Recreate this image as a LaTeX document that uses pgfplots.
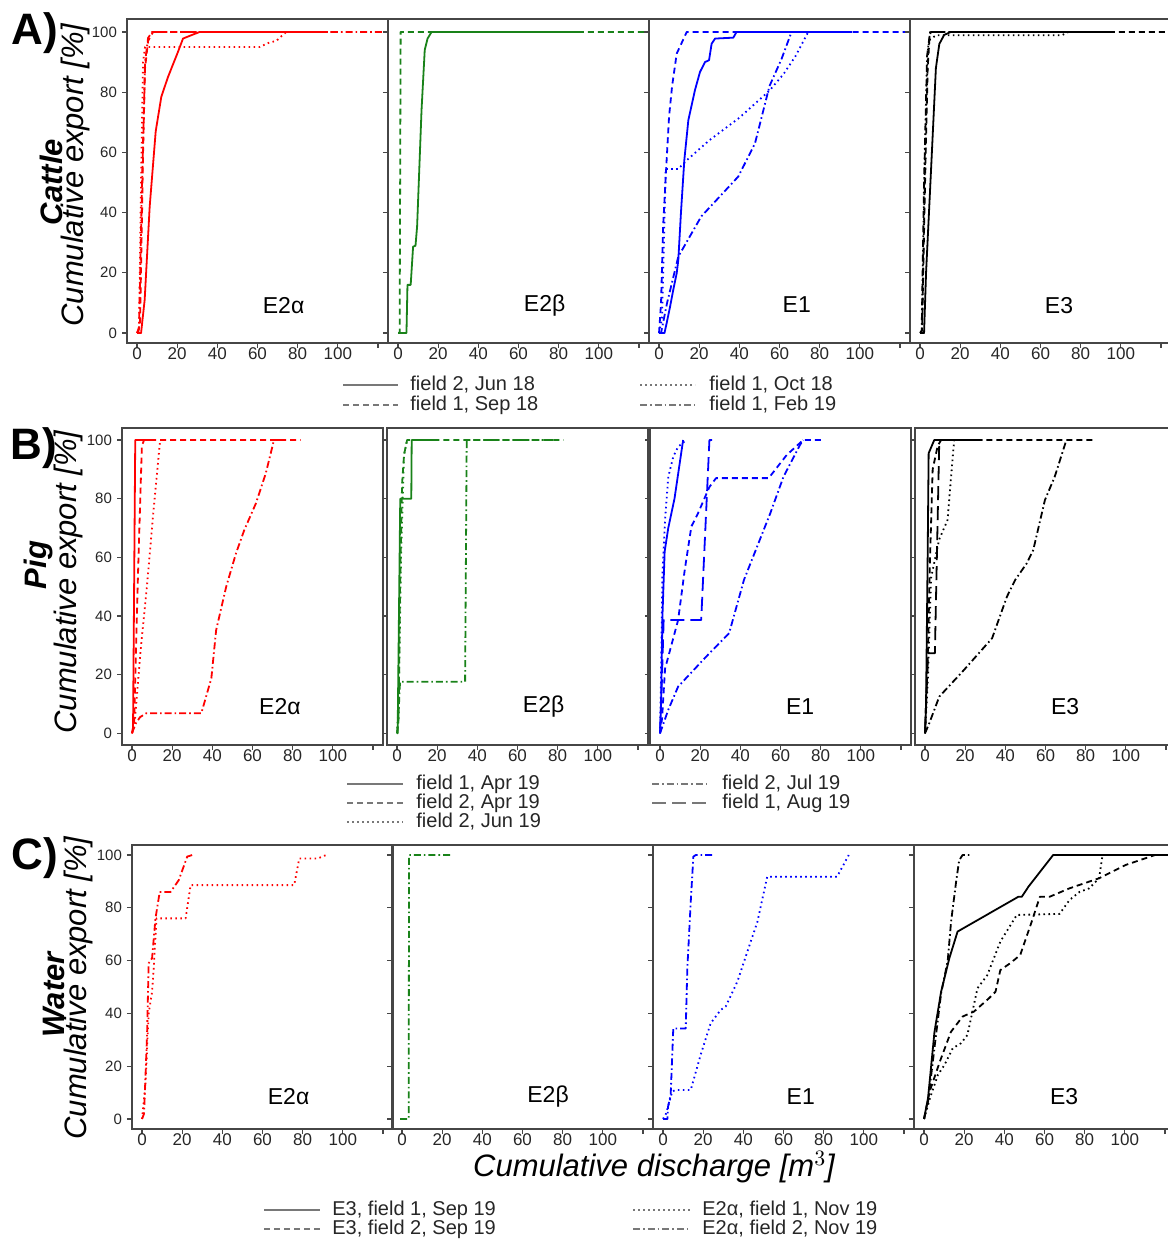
\documentclass[border=0pt]{standalone}
\usepackage{fontspec}
\setmainfont{Liberation Sans}
\usepackage{pgfplots}
\pgfplotsset{compat=1.18}
\definecolor{mygreen}{RGB}{25,130,25}
\definecolor{frame}{RGB}{70,70,70}
\definecolor{leggray}{RGB}{120,120,120}
\tikzset{
 sdash/.style={dash pattern=on 3pt off 2pt},
 sdot/.style={dash pattern=on 0.8pt off 1.7pt},
 sdashdot/.style={dash pattern=on 3.5pt off 1.5pt on 0.8pt off 1.5pt},
 slong/.style={dash pattern=on 7pt off 3pt},
}
\pgfplotsset{
 panel/.style={scale only axis, width=130.5pt, xmin=-5, xmax=125, anchor=north west,
   xtick={0,20,...,120}, xticklabels={0,20,40,60,80,100,{}},
   ytick={0,20,...,100}, yticklabels={},
   tick align=outside, xtick pos=bottom, ytick pos=left, major tick length=2.5pt,
   axis line style={draw=frame, line width=0.8pt},
   tick style={draw=frame, line width=0.6pt},
   xticklabel style={font=\fontsize{8.5}{10}\selectfont, text=black!85, yshift=3.5pt},
   yticklabel style={font=\fontsize{7.5}{9}\selectfont, text=black!85, xshift=1pt},
   every axis plot/.append style={line width=0.9pt, line join=round},
 },
 first/.style={yticklabels={0,20,40,60,80,100}},
 rowA/.style={height=162pt, ymin=-3.3, ymax=104.3},
 rowB/.style={height=158.5pt, ymin=-4.0, ymax=104.1},
 rowC/.style={height=142pt, ymin=-3.8, ymax=103.8},
}
\newcommand{\plab}[3]{\node[font=\fontsize{11.5}{13}\selectfont] at (rel axis cs:#1,#2) {#3};}
\begin{document}
\begin{tikzpicture}
\useasboundingbox (0,0) rectangle (584pt,619.5pt);
\clip (0,0) rectangle (584pt,619.5pt);
% ================= ROW A =================
\begin{axis}[panel,rowA,first,at={(63.5pt,610pt)}]
\addplot[red] coordinates {(0,0)(2,0)(3.8,11)(6.3,42)(9.3,67)(12.1,78.5)(15.4,85)(20.4,93.4)(22.9,97.8)(27,98.9)(31.2,100)(95,100)};
\addplot[red,sdash] coordinates {(0.5,0)(1.5,3)(2.5,40)(3,60)(4,88)(5.5,97)(8,100)(100,100)};
\addplot[red,sdot] coordinates {(0,0)(1,2)(2,50)(3,90)(4,95)(61,95)(66,96.5)(69.3,97)(74.3,100)};
\addplot[red,sdashdot] coordinates {(0,0)(1,2)(2.5,50)(4,90)(5.5,98)(7.5,100)(125,100)};
\plab{0.60}{0.117}{E2α}
\end{axis}
\begin{axis}[panel,rowA,at={(194pt,610pt)}]
\addplot[mygreen] coordinates {(0,0)(4.2,0)(4.7,16)(6.3,16)(7.5,28.7)(8.7,29)(9.5,35.4)(11.7,74)(13.3,94)(14.7,97.8)(16.7,100)(91.7,100)};
\addplot[mygreen,sdash] coordinates {(0,0)(0.8,0)(1.3,100)(125,100)};
\plab{0.60}{0.117}{E2β}
\end{axis}
\begin{axis}[panel,rowA,at={(324.5pt,610pt)}]
\addplot[blue] coordinates {(0,0)(2.7,0)(3.8,3.3)(5.5,8.8)(7.1,14.4)(8.8,19.9)(9.6,24.3)(10.9,39.8)(12.6,57.5)(14.6,70.7)(17.9,80.7)(20.4,86.7)(22.9,90)(24.9,90.6)(26.2,96.1)(27.9,97.8)(37,98.1)(38.6,100)(96,100)};
\addplot[blue,sdash] coordinates {(0,0)(1,10)(2,35)(3.5,54)(5,72)(6.5,82)(8.8,92.8)(13.8,100)(125,100)};
\addplot[blue,sdot] coordinates {(0,0)(1.5,5)(2.8,40)(3.3,54.5)(9.6,54.5)(14,57.5)(25,64)(40,71.5)(55,80.5)(62,86)(68,92)(74.3,100)(95,100)};
\addplot[blue,sdashdot] coordinates {(0,0)(1,0)(4,10)(9.6,25.4)(21,38.7)(39.5,52)(47.8,63)(55,82)(61,91)(66,100)(95,100)};
\plab{0.566}{0.117}{E1}
\end{axis}
\begin{axis}[panel,rowA,at={(455pt,610pt)}]
\addplot[black] coordinates {(0,0)(2,0)(3,20)(5.9,60)(7.9,88)(9.6,96)(12,99)(15.3,100)(95,100)};
\addplot[black,sdash] coordinates {(0,0)(1,1)(2.5,50)(3.8,88)(4.8,99)(5.5,100)(125,100)};
\addplot[black,sdot] coordinates {(0,0)(1,0)(2.5,60)(4,95)(5,97.5)(8,98.9)(70.6,98.9)(74,100)};
\addplot[black,sdashdot] coordinates {(0,0)(0.8,0)(2,50)(3.5,92)(5,100)(95,100)};
\plab{0.571}{0.117}{E3}
\end{axis}
% ================= ROW B =================
\begin{axis}[panel,rowB,first,at={(61pt,405.5pt)}]
\addplot[red] coordinates {(0,0)(0.5,2)(1.6,100)(11.5,100)};
\addplot[red,sdash] coordinates {(0,0)(1,3)(3,55)(4.9,98)(6,100)(84,100)};
\addplot[red,sdot] coordinates {(0,0)(1.5,5)(4.1,27)(7.4,50)(10.7,76)(14,100)};
\addplot[red,sdashdot] coordinates {(0,0)(0.5,1)(2,3.5)(4,5.5)(7,6.8)(34.5,6.8)(39.5,18.75)(41.9,35.2)(46.9,50)(51.8,61.4)(55.9,69.3)(61.7,78.4)(66.6,88.6)(70.7,100)(76.5,100)};
\plab{0.605}{0.121}{E2α}
\end{axis}
\begin{axis}[panel,rowB,at={(193.5pt,405.5pt)}]
\addplot[mygreen] coordinates {(0,0)(0.3,0)(1.6,80)(7.1,80)(7.3,100)(20,100)};
\addplot[mygreen,sdash] coordinates {(0,0)(0.8,5)(1.5,50)(2.5,85)(3.5,95)(5,100)(83,100)};
\addplot[mygreen,sdot] coordinates {(0,0)(0.8,10)(2,60)(3.5,95)(5,100)(15,100)};
\addplot[mygreen,sdashdot] coordinates {(0,0)(0.5,3)(1.5,17.6)(33.9,17.6)(34.7,100)(80,100)};
\plab{0.60}{0.121}{E2β}
\end{axis}
\begin{axis}[panel,rowB,at={(325pt,405.5pt)}]
\addplot[blue] coordinates {(0,0)(0.5,10)(1.2,40)(2.3,62)(4.1,70)(7.2,80)(11.5,100)};
\addplot[blue,sdot] coordinates {(0,0)(0.5,20)(1.2,55)(2.5,72.7)(4.1,87.5)(6.6,94.3)(9,97.7)(13.1,100)};
\addplot[blue,slong] coordinates {(0,0)(0.8,15)(1.8,38.6)(20.5,38.6)(24.6,100)(26,100)};
\addplot[blue,sdash] coordinates {(0,0)(1,5)(2.5,22)(9,38.6)(12.3,55.7)(15.6,70.5)(18.9,75)(24.6,84)(27.9,87)(54.1,87)(63.1,94.9)(71.3,100)(82,100)};
\addplot[blue,sdashdot] coordinates {(0,0)(4.1,8)(9,15.9)(24.6,27.3)(34.4,34.1)(41.8,52.3)(54.9,75)(61.5,87.5)(69.7,98.3)(71.3,100)};
\plab{0.575}{0.121}{E1}
\end{axis}
\begin{axis}[panel,rowB,at={(457.5pt,405.5pt)}]
\addplot[black] coordinates {(0,0)(0.5,10)(1.3,60)(1.8,95.5)(4.6,100)(28.5,100)};
\addplot[black,slong] coordinates {(0,0)(1.5,27.3)(4.9,27.3)(7.1,100)};
\addplot[black,sdash] coordinates {(0,0)(1.5,30)(2.5,60)(3.8,90)(6.3,98)(8,100)(84.4,100)};
\addplot[black,sdot] coordinates {(0,0)(1.5,20)(3,53)(7,66)(11.2,72.7)(12.8,86)(14.5,100)};
\addplot[black,sdashdot] coordinates {(0,0)(2.1,3.4)(7.1,12.5)(19.4,21.6)(33.4,32.4)(40.8,46.6)(44.9,52.3)(50.7,58)(53.9,62.5)(59.7,79.5)(64.6,87.5)(70.4,100)};
\plab{0.575}{0.121}{E3}
\end{axis}
% ================= ROW C =================
\begin{axis}[panel,rowC,first,at={(66pt,197pt)}]
\addplot[red,sdashdot] coordinates {(0,0)(1,2)(2.5,31.8)(3.3,59)(5,60.9)(6.7,76)(8.8,86)(14.2,86)(18.3,90.5)(22.5,99.4)(25,100)};
\addplot[red,sdot] coordinates {(0,0)(1.7,12.9)(3.3,40)(5,48.2)(5.8,57)(7.2,76)(21.7,76)(24.2,88.6)(75.8,88.6)(78.3,98.7)(87.5,98.7)(91.7,100)};
\plab{0.60}{0.114}{E2α}
\end{axis}
\begin{axis}[panel,rowC,at={(196pt,197pt)}]
\addplot[mygreen,sdashdot] coordinates {(-1,0)(3.3,0)(3.5,100)(24.5,100)};
\plab{0.598}{0.114}{E2β}
\end{axis}
\begin{axis}[panel,rowC,at={(326.5pt,197pt)}]
\addplot[blue,sdashdot] coordinates {(0,0)(2.2,0)(2.5,4.7)(3.8,9)(5.1,34.3)(11.3,34.3)(12.1,57)(13.8,82.3)(15.1,99.4)(16.3,100)(24.5,100)};
\addplot[blue,sdot] coordinates {(0,0)(1.5,2)(4.6,10.4)(6.3,11)(13.8,11)(18.7,24.2)(23.7,36.2)(28.7,41.3)(31.2,42.6)(37,52)(42,63.4)(47,74.7)(51.9,91.8)(86.7,91.8)(92.5,100)};
\plab{0.566}{0.114}{E1}
\end{axis}
\begin{axis}[panel,rowC,at={(457pt,197pt)}]
\addplot[black] coordinates {(0,0)(2,8)(5.2,33)(8.5,48.2)(12.6,60.9)(16.7,71)(47,84.2)(48.7,84.2)(52,88)(64.3,100)(125,100)};
\addplot[black,sdash] coordinates {(0,0)(2.8,10.4)(8,22)(13.4,33)(19.2,38.8)(24.9,40.7)(32.3,45.7)(35.6,48.2)(38,56.4)(42.9,59)(47.9,62.1)(53.6,74.7)(57.7,84.2)(62.6,84.2)(72.5,87.4)(87.2,91.2)(100.3,96.2)(115,100)(125,100)};
\addplot[black,sdot] coordinates {(0,0)(3,8)(6.9,16.7)(10.2,20.5)(14.3,26.8)(18.4,28.7)(21.6,31.8)(26.6,49.5)(31.5,54.5)(38,67.2)(46.2,77.3)(67.5,77.7)(72.5,83)(77.4,86)(82.3,87.4)(87.2,91.2)(88.9,100)(125,100)};
\addplot[black,sdashdot] coordinates {(0,0)(2,6.6)(5.2,27)(8.5,47.6)(11.8,60)(13.5,75)(16,90)(17.5,98)(19.2,100)(23.3,100)};
\plab{0.575}{0.114}{E3}
\end{axis}
% ================= labels =================
\node[font=\bfseries\fontsize{22}{24}\selectfont] at (17.5pt,603pt) {A)};
\node[font=\bfseries\fontsize{22}{24}\selectfont] at (17pt,395.5pt) {B)};
\node[font=\bfseries\fontsize{22}{24}\selectfont] at (17.5pt,190.5pt) {C)};
\node[rotate=90,font=\bfseries\itshape\fontsize{15.5}{17}\selectfont] at (25.5pt,528.5pt) {Cattle};
\node[rotate=90,font=\itshape\fontsize{15.5}{17}\selectfont] at (37.5pt,532pt) {Cumulative export [\%]};
\node[rotate=90,font=\bfseries\itshape\fontsize{15.5}{17}\selectfont] at (19pt,337pt) {Pig};
\node[rotate=90,font=\itshape\fontsize{15.5}{17}\selectfont] at (34pt,328.5pt) {Cumulative export [\%]};
\node[rotate=90,font=\bfseries\itshape\fontsize{15.5}{17}\selectfont] at (27pt,122pt) {Water};
\node[rotate=90,font=\itshape\fontsize{15.5}{17}\selectfont] at (39pt,125.5pt) {Cumulative export [\%]};
\node[font=\itshape\fontsize{15.5}{17}\selectfont] at (327pt,36pt) {Cumulative discharge [m$^{3}$]};
% ================= legends =================
\begin{scope}[every node/.style={anchor=west,inner sep=0pt,font=\fontsize{10}{12}\selectfont,text=black!85}]
\draw[leggray,line width=0.7pt] (171.5pt,427pt) -- (199pt,427pt); \node at (205pt,427pt) {field 2, Jun 18};
\draw[leggray,line width=0.7pt,sdash] (171.5pt,417pt) -- (199pt,417pt); \node at (205pt,417pt) {field 1, Sep 18};
\draw[leggray,line width=0.7pt,sdot] (320pt,427pt) -- (347.5pt,427pt); \node at (354.5pt,427pt) {field 1, Oct 18};
\draw[leggray,line width=0.7pt,sdashdot] (320pt,417pt) -- (347.5pt,417pt); \node at (354.5pt,417pt) {field 1, Feb 19};
%
\draw[leggray,line width=0.7pt] (173.5pt,227.5pt) -- (201.5pt,227.5pt); \node at (208pt,227.5pt) {field 1, Apr 19};
\draw[leggray,line width=0.7pt,sdash] (173.5pt,218pt) -- (201.5pt,218pt); \node at (208pt,218pt) {field 2, Apr 19};
\draw[leggray,line width=0.7pt,sdot] (173.5pt,208.5pt) -- (201.5pt,208.5pt); \node at (208pt,208.5pt) {field 2, Jun 19};
\draw[leggray,line width=0.7pt,sdashdot] (326pt,227.5pt) -- (354pt,227.5pt); \node at (361pt,227.5pt) {field 2, Jul 19};
\draw[leggray,line width=0.7pt,slong] (326pt,218pt) -- (354pt,218pt); \node at (361pt,218pt) {field 1, Aug 19};
%
\draw[leggray,line width=0.7pt] (132pt,14.5pt) -- (160pt,14.5pt); \node at (166pt,14.5pt) {E3, field 1, Sep 19};
\draw[leggray,line width=0.7pt,sdash] (132pt,5pt) -- (160pt,5pt); \node at (166pt,5pt) {E3, field 2, Sep 19};
\draw[leggray,line width=0.7pt,sdot] (316.5pt,14.5pt) -- (345pt,14.5pt); \node at (351pt,14.5pt) {E2α, field 1, Nov 19};
\draw[leggray,line width=0.7pt,sdashdot] (316.5pt,5pt) -- (345pt,5pt); \node at (351pt,5pt) {E2α, field 2, Nov 19};
\end{scope}
\end{tikzpicture}
\end{document}
